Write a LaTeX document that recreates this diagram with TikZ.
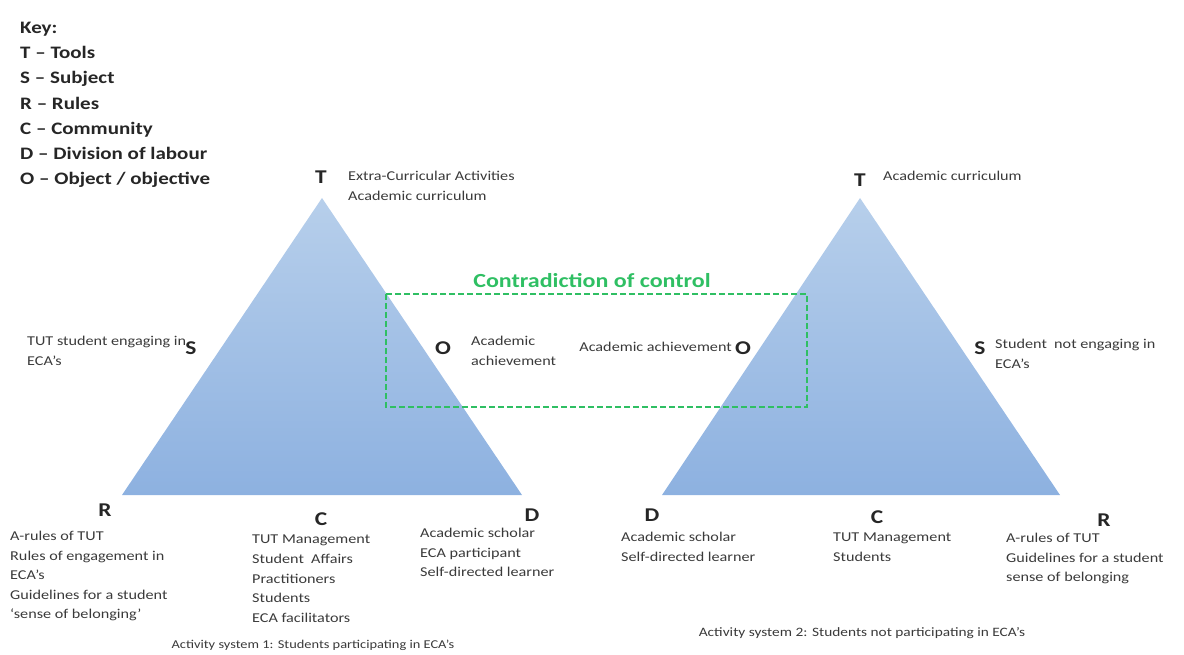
\documentclass[tikz,border=0pt]{standalone}
\usepackage{fontspec}
\setmainfont{Carlito}[FakeStretch=1.2]
\definecolor{triTop}{HTML}{B7CFEB}
\definecolor{triBot}{HTML}{8DB1E0}
\definecolor{contra}{HTML}{2FBF63}
\definecolor{txtgray}{HTML}{3A3A3A}
\tikzset{
  keytext/.style={anchor=north west, inner sep=0pt, align=left, font=\fontsize{17.5}{25.2}\selectfont\bfseries, text=black!85},
  letter/.style={inner sep=0pt, font=\fontsize{19.5}{19.5}\selectfont\bfseries, text=black!85},
  small/.style={inner sep=0pt, align=left, font=\fontsize{13.5}{19.6}\selectfont, text=txtgray},
  tri/.style={top color=triTop, bottom color=triBot}
}
\begin{document}
\begin{tikzpicture}[x=1pt,y=-1pt]
\useasboundingbox (0,0) rectangle (1184,655);
% triangles
\shade[tri] (322,198) -- (522,495) -- (122,495) -- cycle;
\shade[tri] (860,198) -- (1060,495) -- (662,495) -- cycle;
% contradiction box
\draw[contra, line width=1.1pt, dash pattern=on 6pt off 3pt] (386,294) rectangle (807,407);
\node[inner sep=0pt, text=contra, font=\fontsize{20}{20}\selectfont\bfseries] (contr) at (592,281) {Contradiction of control};
% key
\node[keytext] (key) at (20,22) {Key:\\T -- Tools\\S -- Subject\\R -- Rules\\C -- Community\\D -- Division of labour\\O -- Object / objective};
% left system
\node[letter] (T1) at (321,177) {T};
\node[small, anchor=north west] (T1t) at (348,171) {Extra-Curricular Activities\\Academic curriculum};
\node[letter] (S1) at (191,348) {S};
\node[small, anchor=north west] (S1t) at (27,336) {TUT student engaging in\\ECA's};
\node[letter] (O1) at (443,348) {O};
\node[small, anchor=north west] (O1t) at (471,336) {Academic\\achievement};
\node[letter] (R1) at (105,510) {R};
\node[small, anchor=north west] (R1t) at (10,531) {A-rules of TUT\\Rules of engagement in\\ECA's\\Guidelines for a student\\`sense of belonging'};
\node[letter] (C1) at (321,519) {C};
\node[small, anchor=north west] (C1t) at (252,535) {TUT Management\\Student\ \ Affairs\\Practitioners\\Students\\ECA facilitators};
\node[letter] (D1) at (532,515) {D};
\node[small, anchor=north west] (D1t) at (420,528) {Academic scholar\\ECA participant\\Self-directed learner};
\node[small, font=\fontsize{12}{14}\selectfont] (cap1) at (313,645) {Activity system 1: Students participating in ECA's};
% right system
\node[letter] (T2) at (860,180) {T};
\node[small, anchor=north west] (T2t) at (883,171) {Academic curriculum};
\node[letter] (O2) at (743,348) {O};
\node[small, anchor=east] (O2t) at (732,347) {Academic achievement};
\node[letter] (S2) at (980,348) {S};
\node[small, anchor=north west] (S2t) at (995,339) {Student\ \ not engaging in\\ECA's};
\node[letter] (D2) at (652,515) {D};
\node[small, anchor=north west] (D2t) at (621,532) {Academic scholar\\Self-directed learner};
\node[letter] (C2) at (877,517) {C};
\node[small, anchor=north west] (C2t) at (833,533) {TUT Management\\Students};
\node[letter] (R2) at (1104,520) {R};
\node[small, anchor=north west] (R2t) at (1006,533) {A-rules of TUT\\Guidelines for a student\\sense of belonging};
\node[small, font=\fontsize{12.8}{14}\selectfont] (cap2) at (862,633) {Activity system 2: Students not participating in ECA's};
\end{tikzpicture}
\end{document}
